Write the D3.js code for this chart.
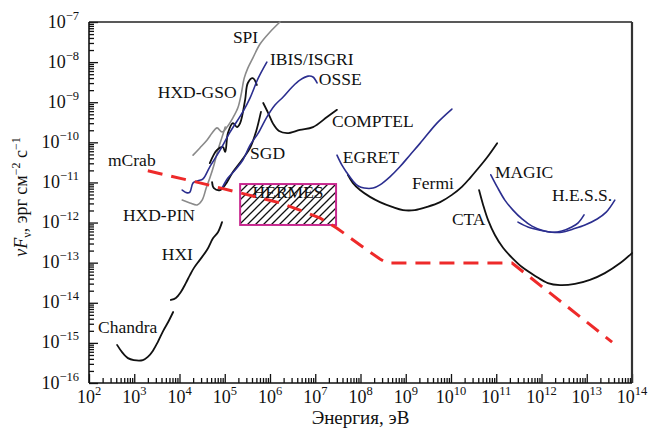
<!DOCTYPE html>
<html><head><meta charset="utf-8">
<script src="https://cdn.jsdelivr.net/npm/d3@7"></script>
<style>
html,body{margin:0;padding:0;background:#fff;}
svg{display:block;font-family:"Liberation Serif","Times New Roman",serif;}
</style></head><body>
<svg id="chart" width="648" height="428"></svg>
<script>
// Data points: [log10 Energy (eV), log10 νFν (erg cm^-2 s^-1)]
const chandra = [[2.62,-15.05],[2.73,-15.23],[2.86,-15.38],[2.99,-15.43],[3.19,-15.43],[3.30,-15.35],[3.41,-15.20],[3.52,-14.98],[3.64,-14.70],[3.75,-14.48],[3.86,-14.23]];
const hxi = [[3.81,-13.93],[3.92,-13.88],[4.03,-13.73],[4.14,-13.51],[4.23,-13.31],[4.32,-13.13],[4.45,-12.93],[4.61,-12.68],[4.74,-12.39],[4.85,-12.24],[4.94,-11.99]];
const hxdPin = [[4.06,-11.44],[4.23,-11.51],[4.39,-11.56],[4.50,-11.44],[4.59,-11.14],[4.67,-10.89],[4.76,-10.57],[4.85,-10.19],[4.94,-9.87],[5.01,-9.62]];
const spi = [[4.30,-10.32],[4.45,-10.14],[4.61,-9.94],[4.72,-9.77],[4.83,-9.64],[4.94,-9.74],[5.05,-9.62],[5.18,-9.39],[5.29,-9.14],[5.36,-8.82],[5.43,-8.40],[5.51,-8.15],[5.62,-7.90],[5.78,-7.55],[6.00,-7.25],[6.22,-7.00]];
const ibis = [[4.06,-11.19],[4.17,-11.26],[4.23,-11.24],[4.30,-11.01],[4.41,-10.96],[4.52,-10.91],[4.67,-10.61],[4.90,-10.19],[5.12,-9.74],[5.40,-9.24],[5.56,-8.89],[5.74,-8.40],[5.93,-8.00]];
const hxdGso = [[4.67,-10.52],[4.83,-10.19],[4.96,-10.12],[5.01,-10.24],[5.07,-9.77],[5.18,-9.52],[5.27,-9.62],[5.34,-9.52],[5.45,-8.94],[5.51,-8.52],[5.62,-8.40],[5.71,-8.57]];
const sgd = [[4.72,-10.99],[4.76,-11.14],[4.90,-11.19],[5.01,-11.06],[5.18,-10.74],[5.38,-10.44],[5.56,-10.14],[5.69,-9.74],[5.80,-9.24]];
const osse = [[4.94,-11.14],[5.07,-10.89],[5.23,-10.69],[5.40,-10.44],[5.56,-10.07],[5.74,-9.77],[5.93,-9.37],[6.11,-9.07],[6.29,-8.87],[6.49,-8.62],[6.66,-8.45],[6.84,-8.35],[6.95,-8.37],[7.04,-8.52]];
const comptel = [[5.85,-9.02],[5.96,-9.27],[6.07,-9.54],[6.20,-9.72],[6.38,-9.77],[6.66,-9.69],[6.95,-9.62],[7.26,-9.37],[7.48,-9.19]];
const egret = [[7.48,-10.32],[7.59,-10.57],[7.70,-10.76],[7.83,-10.96],[7.95,-11.09],[8.08,-11.14],[8.28,-11.14],[8.43,-11.06],[8.65,-10.86],[8.87,-10.61],[9.09,-10.32],[9.32,-10.02],[9.69,-9.52],[10.02,-9.17]];
const fermi = [[7.72,-10.81],[7.83,-11.01],[7.99,-11.19],[8.21,-11.36],[8.43,-11.49],[8.70,-11.61],[8.94,-11.69],[9.20,-11.69],[9.47,-11.61],[9.76,-11.49],[10.02,-11.31],[10.24,-11.11],[10.42,-10.89],[10.57,-10.69],[10.80,-10.37],[11.02,-10.02]];
const cta = [[10.62,-11.19],[10.71,-11.56],[10.82,-11.94],[10.97,-12.31],[11.15,-12.63],[11.35,-12.88],[11.57,-13.11],[11.86,-13.33],[12.14,-13.51],[12.41,-13.56],[12.74,-13.53],[13.07,-13.43],[13.40,-13.26],[13.74,-13.01],[14.00,-12.76]];
const magic = [[10.88,-10.81],[11.02,-11.11],[11.19,-11.44],[11.37,-11.69],[11.57,-11.91],[11.79,-12.09],[12.01,-12.19],[12.23,-12.24],[12.45,-12.21],[12.67,-12.11],[12.81,-12.01],[12.94,-11.81]];
const hess = [[11.48,-11.99],[11.70,-12.11],[11.97,-12.19],[12.23,-12.24],[12.45,-12.24],[12.70,-12.16],[12.96,-12.06],[13.23,-11.91],[13.43,-11.74],[13.62,-11.44]];
const mCrab = [[3.30,-10.71],[4.45,-11.01],[5.34,-11.26],[6.22,-11.51],[6.66,-11.69],[7.11,-11.89],[7.48,-12.14],[7.99,-12.56],[8.43,-12.91],[8.59,-13.01],[11.35,-13.01],[13.56,-14.98]];
// HERMES region: [log10 E min, log10 E max], [log10 F min, log10 F max]
const hermesE = [5.34, 7.46];
const hermesF = [-12.06, -11.04];

const xTickExp = [2,3,4,5,6,7,8,9,10,11,12,13,14];
const yTickExp = [-16,-15,-14,-13,-12,-11,-10,-9,-8,-7];

const labels = [
  {text:"SPI", e:5.18, f:-7.52},
  {text:"IBIS/ISGRI", e:6.00, f:-8.07},
  {text:"HXD-GSO", e:3.52, f:-8.90},
  {text:"OSSE", e:7.08, f:-8.57},
  {text:"COMPTEL", e:7.37, f:-9.62},
  {text:"SGD", e:5.56, f:-10.41},
  {text:"EGRET", e:7.61, f:-10.51},
  {text:"Fermi", e:9.14, f:-11.16},
  {text:"MAGIC", e:10.97, f:-10.89},
  {text:"H.E.S.S.", e:12.23, f:-11.46},
  {text:"CTA", e:10.02, f:-12.05},
  {text:"mCrab", e:2.42, f:-10.59},
  {text:"HXD-PIN", e:2.75, f:-11.97},
  {text:"HXI", e:3.61, f:-12.93},
  {text:"Chandra", e:2.20, f:-14.75}
];

const BLACK="#111", BLUE="#2b2e8f", GRAY="#8a8a8a";
const series = [
  {d:hxdPin, c:GRAY, w:1.6},
  {d:spi, c:GRAY, w:1.6},
  {d:chandra, c:BLACK, w:1.8},
  {d:hxi, c:BLACK, w:1.8},
  {d:hxdGso, c:BLACK, w:1.8},
  {d:sgd, c:BLACK, w:1.8},
  {d:comptel, c:BLACK, w:1.8},
  {d:fermi, c:BLACK, w:1.8},
  {d:cta, c:BLACK, w:1.8},
  {d:ibis, c:BLUE, w:1.6},
  {d:osse, c:BLUE, w:1.6},
  {d:egret, c:BLUE, w:1.6},
  {d:magic, c:BLUE, w:1.6},
  {d:hess, c:BLUE, w:1.6}
];

const svg = d3.select("#chart");
const L=89, R=632, T=22, B=383;
const x = d3.scaleLog().domain([1e2,1e14]).range([L,R]);
const y = d3.scaleLog().domain([1e-16,1e-7]).range([B,T]);
const p10 = v => Math.pow(10,v);
const line = d3.line().x(d=>x(p10(d[0]))).y(d=>y(p10(d[1]))).curve(d3.curveCatmullRom.alpha(0.5));
const lineLin = d3.line().x(d=>x(p10(d[0]))).y(d=>y(p10(d[1])));

// hatch pattern
const defs = svg.append("defs");
const pat = defs.append("pattern").attr("id","hatch").attr("patternUnits","userSpaceOnUse")
  .attr("width",8).attr("height",8);
pat.append("path").attr("d","M-2,2 L2,-2 M0,8 L8,0 M6,10 L10,6").attr("stroke","#111").attr("stroke-width",1.3);

// minor / major ticks
const minorX = [], minorY = [];
xTickExp.slice(0,-1).forEach(e=>{ for(let k=2;k<=9;k++) minorX.push(k*p10(e)); });
yTickExp.slice(0,-1).forEach(e=>{ for(let k=2;k<=9;k++) minorY.push(k*p10(e)); });

const gx = svg.append("g").attr("transform",`translate(0,${B})`);
gx.call(d3.axisBottom(x).tickValues(minorX).tickSize(-5).tickFormat("").tickSizeOuter(0));
const gxM = svg.append("g").attr("transform",`translate(0,${B})`);
gxM.call(d3.axisBottom(x).tickValues(xTickExp.map(p10)).tickSize(-9).tickFormat("").tickSizeOuter(0));
const gy = svg.append("g").attr("transform",`translate(${L},0)`);
gy.call(d3.axisLeft(y).tickValues(minorY).tickSize(-5).tickFormat("").tickSizeOuter(0));
const gyM = svg.append("g").attr("transform",`translate(${L},0)`);
gyM.call(d3.axisLeft(y).tickValues(yTickExp.map(p10)).tickSize(-9).tickFormat("").tickSizeOuter(0));
svg.selectAll(".domain").remove();
svg.selectAll(".tick line").attr("stroke","#111").attr("stroke-width",1.3);

// frame
svg.append("line").attr("x1",L).attr("x2",R).attr("y1",T).attr("y2",T).attr("stroke","#222").attr("stroke-width",1.6);
svg.append("line").attr("x1",R).attr("x2",R).attr("y1",T).attr("y2",B).attr("stroke","#333").attr("stroke-width",2.2);
svg.append("line").attr("x1",L).attr("x2",L).attr("y1",T).attr("y2",B).attr("stroke","#111").attr("stroke-width",1.6);
svg.append("line").attr("x1",L).attr("x2",R).attr("y1",B).attr("y2",B).attr("stroke","#111").attr("stroke-width",1.6);

// tick labels
const neg = v => (v<0 ? "\u2212"+Math.abs(v) : ""+v);
xTickExp.forEach(e=>{
  const t = svg.append("text").attr("x",x(p10(e))).attr("y",403).attr("text-anchor","middle")
    .attr("font-size",18).attr("fill","#111");
  t.append("tspan").text("10");
  t.append("tspan").attr("dy",-8).attr("font-size",12.5).text(neg(e));
});
yTickExp.forEach(e=>{
  const t = svg.append("text").attr("x",79).attr("y",y(p10(e))+5.5).attr("text-anchor","end")
    .attr("font-size",18).attr("fill","#111");
  t.append("tspan").text("10");
  t.append("tspan").attr("dy",-8).attr("font-size",12.5).text(neg(e));
});

// axis titles
svg.append("text").attr("x",(L+R)/2).attr("y",424).attr("text-anchor","middle").attr("font-size",19)
  .attr("fill","#111").text("Энергия, эВ");
const yt = svg.append("text").attr("transform","translate(27,197) rotate(-90)").attr("text-anchor","middle")
  .attr("font-size",18).attr("fill","#111");
yt.append("tspan").attr("font-style","italic").text("\u03bdF");
yt.append("tspan").attr("font-size",12).attr("dy",4).text("\u03bd");
yt.append("tspan").attr("dy",-4).text(", эрг см");
yt.append("tspan").attr("font-size",12).attr("dy",-7).text("\u22122");
yt.append("tspan").attr("dy",7).text(" с");
yt.append("tspan").attr("font-size",12).attr("dy",-7).text("\u22121");

// HERMES box
const hx0 = x(p10(hermesE[0])), hx1 = x(p10(hermesE[1]));
const hy0 = y(p10(hermesF[1])), hy1 = y(p10(hermesF[0]));
svg.append("rect").attr("x",hx0).attr("y",hy0).attr("width",hx1-hx0).attr("height",hy1-hy0)
  .attr("fill","url(#hatch)").attr("stroke","#c8288f").attr("stroke-width",2);
svg.append("text").attr("x",(hx0+hx1)/2).attr("y",hy0+14).attr("text-anchor","middle")
  .attr("font-size",17.5).attr("fill","#111").text("HERMES");

// curves
series.forEach(s=>{
  svg.append("path").attr("d",line(s.d)).attr("fill","none").attr("stroke",s.c)
    .attr("stroke-width",s.w).attr("stroke-linejoin","round").attr("stroke-linecap","round");
});

// mCrab
svg.append("path").attr("d",lineLin(mCrab)).attr("fill","none").attr("stroke","#ee2a2a")
  .attr("stroke-width",3).attr("stroke-dasharray","15,9");

// labels
labels.forEach(l=>{
  svg.append("text").attr("x",x(p10(l.e))).attr("y",y(p10(l.f))).attr("font-size",17.5)
    .attr("fill","#111").text(l.text);
});
</script>
</body></html>
